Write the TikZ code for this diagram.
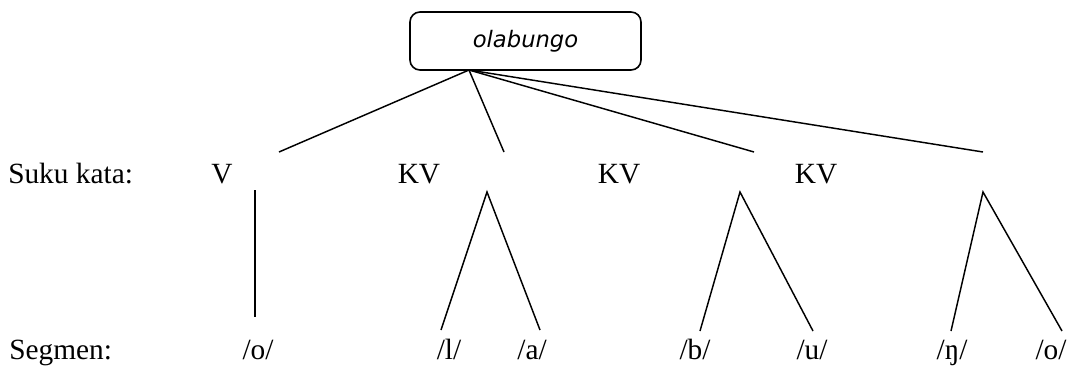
\documentclass[tikz,border=0pt]{standalone}
\usepackage{fontspec}
\setmainfont{Liberation Serif}
\newfontfamily\boxfont{DejaVu Sans}
\begin{document}
\begin{tikzpicture}[x=0.75pt,y=-0.75pt,
  lbl/.style={anchor=base,inner sep=0pt,font=\fontsize{22}{26}\selectfont},
  lblw/.style={anchor=base west,inner sep=0pt,font=\fontsize{22}{26}\selectfont},
  wordbox/.style={draw,line width=1.2pt,rounded corners=7.5pt,minimum width=173.25pt,minimum height=43.5pt,inner sep=0pt,font=\boxfont\itshape\fontsize{17}{20}\selectfont},
  branch/.style={line width=1.1pt}]
\useasboundingbox (0,0) rectangle (1085,371);
% root box
\node[wordbox] (word) at (525.5,41) {olabungo};
\coordinate (r) at (469,70);
% row labels
\node[lblw] (suku) at (8,183) {Suku kata:};
\node[lblw] (seg) at (9,359) {Segmen:};
% syllables
\node[lbl] (s1) at (222,183) {V};
\node[lbl] (s2) at (419,183) {KV};
\node[lbl] (s3) at (619,183) {KV};
\node[lbl] (s4) at (816,183) {KV};
% upper branch ends
\coordinate (u1) at (279,152);
\coordinate (u2) at (504,152);
\coordinate (u3) at (754,152);
\coordinate (u4) at (983,152);
\draw[branch] (r) -- (u1);
\draw[branch] (r) -- (u2);
\draw[branch] (r) -- (u3);
\draw[branch] (r) -- (u4);
% lower structure
\coordinate (v1t) at (255,190);
\coordinate (v1b) at (255,317);
\coordinate (a1) at (487,192);
\coordinate (a2) at (740,192);
\coordinate (a3) at (983,192);
\coordinate (f1) at (441,330);
\coordinate (f2) at (540,330);
\coordinate (f3) at (700,331);
\coordinate (f4) at (813,331);
\coordinate (f5) at (951,331);
\coordinate (f6) at (1062,331);
\draw[branch] (v1t) -- (v1b);
\draw[branch] (f1) -- (a1) -- (f2);
\draw[branch] (f3) -- (a2) -- (f4);
\draw[branch] (f5) -- (a3) -- (f6);
% segments
\node[lbl] (g1) at (258,359) {/o/};
\node[lbl] (g2) at (449,359) {/l/};
\node[lbl] (g3) at (532,359) {/a/};
\node[lbl] (g4) at (695,359) {/b/};
\node[lbl] (g5) at (812,359) {/u/};
\node[lbl] (g6) at (952,359) {/ŋ/};
\node[lbl] (g7) at (1051,359) {/o/};
\end{tikzpicture}
\end{document}
